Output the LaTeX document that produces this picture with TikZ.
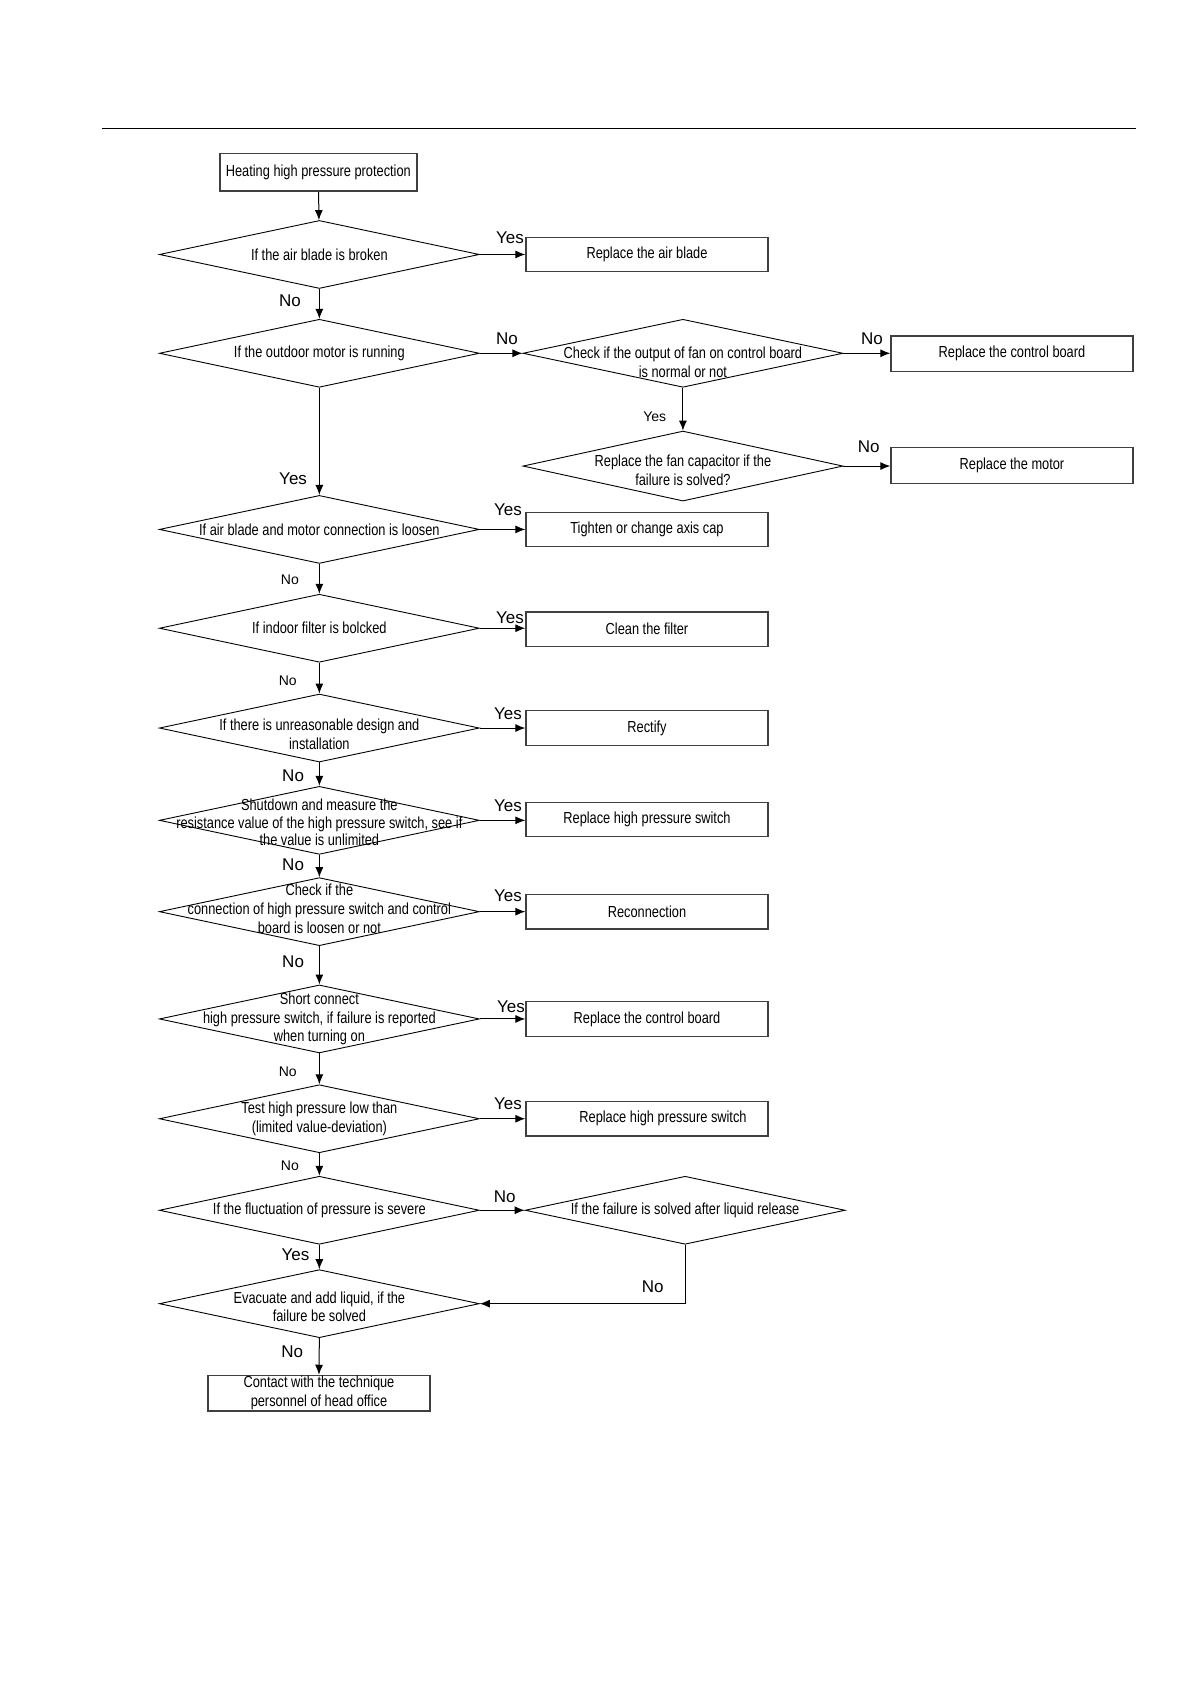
\documentclass[tikz,border=0pt]{standalone}
\usepackage{fontspec}
\setmainfont{Liberation Sans}[FakeStretch=0.8]
\newfontfamily\ynfont{Liberation Sans}
\usetikzlibrary{shapes.geometric}
\usetikzlibrary{arrows.meta}

\begin{document}
\begin{tikzpicture}[x=0.499pt, y=-0.499pt,
  dia/.style={draw, diamond, minimum width=160pt, minimum height=34pt, inner sep=0pt, line width=0.45pt},
  txt/.style={font=\fontsize{8}{9.4}\selectfont, align=center, inner sep=0pt},
  box/.style={draw=black!75, line width=0.65pt, minimum width=121pt, minimum height=17.2pt, inner sep=0pt,
              font=\fontsize{8}{9.4}\selectfont, align=center},
  yn/.style={font=\ynfont\fontsize{8.5}{10}\selectfont, inner sep=0pt},
  yns/.style={font=\ynfont\fontsize{7}{8}\selectfont, inner sep=0pt},
  arr/.style={-{Latex[length=5pt,width=4pt]}, line width=0.5pt}]
\useasboundingbox (0,0) rectangle (1193.4,1687.4);
\draw[line width=0.7pt] (102,129) -- (1138,129);

% main column
\node[box, minimum width=98.5pt, minimum height=18.8pt] (start) at (319,172.7) {Heating high pressure protection};
\node[dia] (d1) at (320,255) {};
\node[txt] (t1) at (d1) {If the air blade is broken};
\node[dia] (d2) at (320,354) {};
\node[txt] (t2) at (d2) {If the outdoor motor is running};
\node[dia] (d5) at (320,530.5) {};
\node[txt] (t5) at (d5) {If air blade and motor connection is loosen};
\node[dia] (d6) at (320,629.5) {};
\node[txt] (t6) at (d6) {If indoor filter is bolcked};
\node[dia] (d7) at (320,729.5) {};
\node[txt, yshift=-3pt] (t7) at (d7) {If there is unreasonable design and\\installation};
\node[dia] (d8) at (320,822) {};
\node[txt, font=\fontsize{8}{8.7}\selectfont, yshift=-1pt] (t8) at (d8) {Shutdown and measure the\\resistance value of the high pressure switch, see if\\the value is unlimited};
\node[dia] (d9) at (320,913.5) {};
\node[txt, yshift=1.5pt] (t9) at (d9) {Check if the\\connection of high pressure switch and control\\board is loosen or not};
\node[dia] (d10) at (320,1021) {};
\node[txt] (t10) at (d10) {Short connect\\high pressure switch, if failure is reported\\when turning on};
\node[dia] (d11) at (320,1121) {};
\node[txt] (t11) at (d11) {Test high pressure low than\\(limited value-deviation)};
\node[dia] (d12) at (320,1212.7) {};
\node[txt] (t12) at (d12) {If the fluctuation of pressure is severe};
\node[dia] (d14) at (320,1306.3) {};
\node[txt, yshift=-1.5pt] (t14) at (d14) {Evacuate and add liquid, if the\\failure be solved};
\node[box, minimum width=111pt, minimum height=17.8pt] (stop) at (319.6,1396) {Contact with the technique\\personnel of head office};

% right side
\node[dia] (d3) at (684.3,354) {};
\node[txt, yshift=-4.5pt] (t3) at (d3) {Check if the output of fan on control board\\is normal or not};
\node[dia, minimum height=35pt] (d4) at (684.3,467) {};
\node[txt, yshift=-2pt] (t4) at (d4) {Replace the fan capacitor if the\\failure is solved?};
\node[dia] (d13) at (686.5,1212.7) {};
\node[txt] (t13) at (d13) {If the failure is solved after liquid release};

\node[box] (r1) at (648.3,255) {Replace the air blade};
\node[box] (r5) at (648.3,530.5) {Tighten or change axis cap};
\node[box] (r6) at (648.3,630.5) {Clean the filter};
\node[box] (r7) at (648.3,729.5) {Rectify};
\node[box] (r8) at (648.3,821) {Replace high pressure switch};
\node[box] (r9) at (648.3,913.5) {Reconnection};
\node[box] (r10) at (648.3,1021) {Replace the control board};
\node[box] (r11) at (648.3,1121) {\hspace*{16pt}Replace high pressure switch};
\node[box, minimum height=17.8pt] (f3) at (1014,354.5) {Replace the control board};
\node[box, minimum height=17.8pt] (f4) at (1014,466.4) {Replace the motor};

% connectors
\draw[arr] (start) -- (d1);
\foreach \a/\b in {d1/d2, d2/d5, d5/d6, d6/d7, d7/d8, d8/d9, d9/d10, d10/d11, d11/d12, d12/d14, d14/stop, d3/d4}
  \draw[arr] (\a.south) -- (\b.north);
\foreach \a/\b in {d1/r1, d5/r5, d6/r6, d7/r7, d8/r8, d9/r9, d10/r10, d11/r11, d3/f3, d4/f4}
  \draw[arr] (\a.east) -- (\a.east -| \b.west);
\draw[arr] (d2.east) -- (d3.west);
\draw[arr] (d12.east) -- (d13.west);
\draw[arr] (d13.south) |- (d14.east);

% labels
\node[yn] (y1) at (511,238) {Yes};
\node[yn] (n1) at (290.5,301) {No};
\node[yn] (n2) at (508,339) {No};
\node[yn] (n3) at (873.7,339) {No};
\node[yns] (y2) at (656,417.5) {Yes};
\node[yn] (n4) at (870.5,447.6) {No};
\node[yn] (y3) at (293.7,480) {Yes};
\node[yn] (y4) at (509,511) {Yes};
\node[yns] (n5) at (290.5,581) {No};
\node[yn] (y5) at (511,618.7) {Yes};
\node[yns] (n6) at (288.4,682) {No};
\node[yn] (y6) at (509,715.5) {Yes};
\node[yn] (n7) at (293.7,777) {No};
\node[yn] (y7) at (509,807) {Yes};
\node[yn] (n8) at (293.7,866) {No};
\node[yn] (y8) at (509,897.4) {Yes};
\node[yn] (n9) at (293.7,964) {No};
\node[yn] (y9) at (512,1009) {Yes};
\node[yns] (n10) at (288.4,1074) {No};
\node[yn] (y10) at (509,1106) {Yes};
\node[yns] (n11) at (290.5,1168.5) {No};
\node[yn] (n12) at (505.7,1198.7) {No};
\node[yn] (y11) at (296,1256.8) {Yes};
\node[yn] (n13) at (654,1289) {No};
\node[yn] (n14) at (292.7,1354.7) {No};
\end{tikzpicture}
\end{document}
